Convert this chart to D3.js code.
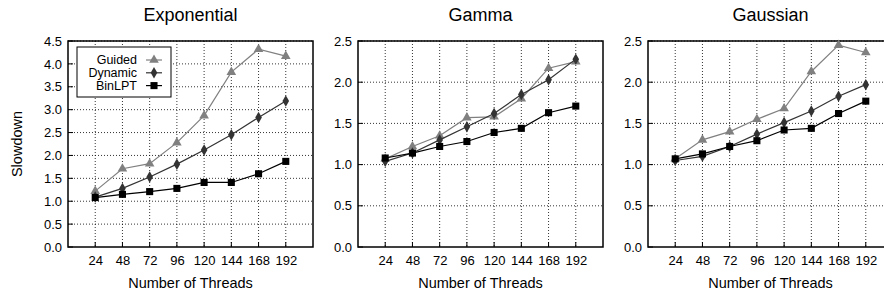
<!DOCTYPE html>
<html>
<head>
<meta charset="utf-8">
<script src="https://cdn.jsdelivr.net/npm/d3@7"></script>
<style>
	body { margin: 0; background: #fff; }
	svg { font-family: "Liberation Sans", Arial, sans-serif; }
	.grid line { stroke: #000; stroke-width: 0.8; stroke-dasharray: 1,2; }
</style>
</head>
<body>
<svg width="884" height="295"></svg>
<script>
	var threads = [24, 48, 72, 96, 120, 144, 168, 192];
	var seriesNames = ["Guided", "Dynamic", "BinLPT"];
	var panelTitles = ["Exponential", "Gamma", "Gaussian"];
	var yMax = [4.5, 2.5, 2.5];

	// slowdown values, one row per series (Guided, Dynamic, BinLPT)
	var exponential = [
		[1.22, 1.71, 1.82, 2.28, 2.87, 3.82, 4.32, 4.17],
		[1.09, 1.28, 1.53, 1.81, 2.12, 2.45, 2.83, 3.19],
		[1.08, 1.15, 1.21, 1.28, 1.41, 1.41, 1.60, 1.87]
	];
	var gamma = [
		[1.07, 1.22, 1.35, 1.57, 1.58, 1.80, 2.17, 2.25],
		[1.04, 1.14, 1.30, 1.46, 1.62, 1.85, 2.03, 2.28],
		[1.08, 1.14, 1.22, 1.28, 1.39, 1.44, 1.63, 1.71]
	];
	var gaussian = [
		[1.07, 1.30, 1.40, 1.55, 1.68, 2.13, 2.45, 2.36],
		[1.05, 1.10, 1.22, 1.37, 1.51, 1.65, 1.83, 1.97],
		[1.07, 1.13, 1.22, 1.29, 1.42, 1.44, 1.62, 1.77]
	];
	var panels = [exponential, gamma, gaussian];

	var colors = ["#808080", "#333333", "#000000"];
	var symbols = [d3.symbolTriangle, d3.symbolDiamond, d3.symbolSquare];
	var symSize = [40, 38, 50];

	var svg = d3.select("svg");
	var panelLeft = [68, 358, 648];
	var pw = 245, plotTop = 41, ph = 206;

	panels.forEach(function(data, p) {
		var g = svg.append("g").attr("transform", "translate(" + panelLeft[p] + "," + plotTop + ")");
		var x = d3.scaleLinear().domain([0, 216]).range([0, pw]);
		var y = d3.scaleLinear().domain([0, yMax[p]]).range([ph, 0]);
		var yticks = d3.range(0, yMax[p] + 0.001, 0.5);

		// grid
		var grid = g.append("g").attr("class", "grid");
		grid.selectAll("line.h").data(yticks.slice(1)).enter().append("line")
			.attr("x1", 0).attr("x2", pw)
			.attr("y1", function(d) { return y(d); }).attr("y2", function(d) { return y(d); });
		grid.selectAll("line.v").data(threads).enter().append("line")
			.attr("y1", 0).attr("y2", ph)
			.attr("x1", function(d) { return x(d); }).attr("x2", function(d) { return x(d); });

		// axes, labels only
		var yAxis = g.append("g").call(d3.axisLeft(y).tickValues(yticks).tickFormat(d3.format(".1f")).tickSize(0).tickPadding(6));
		var xAxis = g.append("g").attr("transform", "translate(0," + ph + ")")
			.call(d3.axisBottom(x).tickValues(threads).tickSize(0).tickPadding(9));
		[xAxis, yAxis].forEach(function(a) {
			a.select(".domain").remove();
			a.attr("font-family", null);
			a.selectAll("text").attr("font-size", 13).attr("fill", "#000");
		});

		// small inner tick marks
		g.selectAll("line.ty").data(yticks).enter().append("line")
			.attr("x1", 0).attr("x2", 5).attr("y1", function(d) { return y(d); }).attr("y2", function(d) { return y(d); })
			.attr("stroke", "#000");
		g.selectAll("line.tx").data(threads).enter().append("line")
			.attr("y1", ph).attr("y2", ph - 5).attr("x1", function(d) { return x(d); }).attr("x2", function(d) { return x(d); })
			.attr("stroke", "#000");

		g.append("rect").attr("width", pw).attr("height", ph)
			.attr("fill", "none").attr("stroke", "#000").attr("stroke-width", 1.5);

		// series
		var line = d3.line().x(function(d, i) { return x(threads[i]); }).y(function(d) { return y(d); });
		data.forEach(function(vals, s) {
			g.append("path").datum(vals).attr("d", line)
				.attr("fill", "none").attr("stroke", colors[s]).attr("stroke-width", 1.2);
			g.selectAll("path.m" + s).data(vals).enter().append("path")
				.attr("d", d3.symbol().type(symbols[s]).size(symSize[s]))
				.attr("transform", function(d, i) { return "translate(" + x(threads[i]) + "," + y(d) + ")"; })
				.attr("fill", colors[s]);
		});

		g.append("text").attr("x", pw / 2).attr("y", -20).attr("text-anchor", "middle")
			.attr("font-size", 18).text(panelTitles[p]);
		g.append("text").attr("x", pw / 2).attr("y", ph + 41).attr("text-anchor", "middle")
			.attr("font-size", 14.5).text("Number of Threads");

		if (p == 0) {
			g.append("text").attr("transform", "translate(-46," + (ph / 2) + ") rotate(-90)")
				.attr("text-anchor", "middle").attr("font-size", 14.5).text("Slowdown");

			var leg = g.append("g").attr("transform", "translate(9,6)");
			leg.append("rect").attr("width", 94).attr("height", 50)
				.attr("fill", "#fff").attr("stroke", "#000").attr("stroke-width", 1);
			seriesNames.forEach(function(name, s) {
				var ly = 13 + s * 12.8;
				leg.append("text").attr("x", 60).attr("y", ly).attr("dy", "0.35em")
					.attr("text-anchor", "end").attr("font-size", 12.5).text(name);
				leg.append("line").attr("x1", 69).attr("x2", 85).attr("y1", ly).attr("y2", ly)
					.attr("stroke", colors[s]).attr("stroke-width", 1.2);
				leg.append("path").attr("d", d3.symbol().type(symbols[s]).size(symSize[s])())
					.attr("transform", "translate(77," + ly + ")").attr("fill", colors[s]);
			});
		}
	});
</script>
</body>
</html>
